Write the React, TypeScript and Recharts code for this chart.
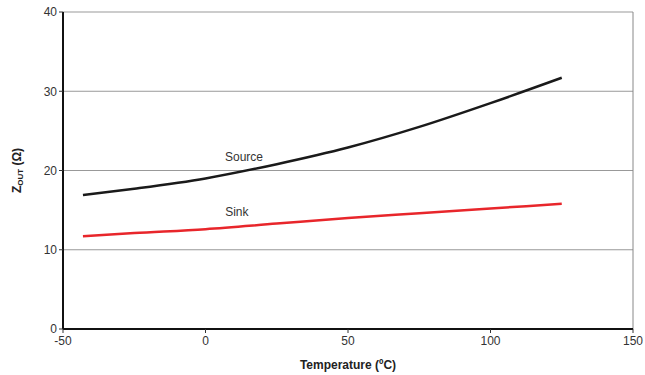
import React from "react";
import { LineChart, Line, XAxis, YAxis, CartesianGrid, ReferenceLine, ReferenceDot, Label } from "recharts";

const temps = [-43, -25, 0, 25, 50, 75, 100, 125];
const source = [16.9, 17.7, 19.0, 20.8, 22.9, 25.5, 28.5, 31.7];
const sink = [11.7, 12.1, 12.6, 13.3, 14.0, 14.6, 15.2, 15.8];
const xTicks = [-50, 0, 50, 100, 150];
const yTicks = [0, 10, 20, 30, 40];

const data = temps.map((t, i) => ({ t, source: source[i], sink: sink[i] }));

const font = "'Liberation Sans', Arial, sans-serif";

const YTitle = (props: any) => {
  const vb = props.viewBox || {};
  const cx = 17;
  const cy = vb.y + vb.height / 2;
  return (
    <text
      x={cx}
      y={cy}
      transform={`rotate(-90, ${cx}, ${cy})`}
      textAnchor="middle"
      dominantBaseline="central"
      fontFamily={font}
      fontSize={12}
      fontWeight="bold"
      fill="#222"
    >
      Z<tspan fontSize={8} dy={3}>OUT</tspan>
      <tspan dy={-3}> (Ω)</tspan>
    </text>
  );
};

export default function App() {
  return (
    <div style={{ position: "absolute", left: 0, top: 0, width: 645, height: 375, overflow: "hidden" }}>
      <LineChart
        width={645}
        height={375}
        data={data}
        margin={{ top: 12, right: 12, bottom: 4, left: 0 }}
        style={{ fontFamily: font }}
      >
        <CartesianGrid vertical={false} stroke="#999" strokeWidth={1} />
        <XAxis
          dataKey="t"
          type="number"
          domain={[-50, 150]}
          ticks={xTicks}
          interval={0}
          height={42}
          axisLine={{ stroke: "#111", strokeWidth: 2 }}
          tickLine={{ stroke: "#333" }}
          tickSize={4}
          tickMargin={3}
          tick={{ fill: "#333", fontSize: 12, fontFamily: font }}
        >
          <Label
            value="Temperature (ºC)"
            position="insideBottom"
            offset={2}
            style={{ fontWeight: "bold", fontSize: 12, fill: "#222", fontFamily: font }}
          />
        </XAxis>
        <YAxis
          type="number"
          domain={[0, 40]}
          ticks={yTicks}
          interval={0}
          width={63}
          axisLine={{ stroke: "#111", strokeWidth: 2 }}
          tickLine={{ stroke: "#333" }}
          tickSize={4}
          tick={{ fill: "#333", fontSize: 12, fontFamily: font }}
        >
          <Label content={<YTitle />} />
        </YAxis>
        <ReferenceLine x={150} stroke="#888" strokeWidth={1} />
        <Line
          type="monotone"
          dataKey="source"
          stroke="#1a1a1a"
          strokeWidth={2.5}
          dot={false}
          isAnimationActive={false}
        />
        <Line
          type="monotone"
          dataKey="sink"
          stroke="#e8262b"
          strokeWidth={2.5}
          dot={false}
          isAnimationActive={false}
        />
        <ReferenceDot x={13.5} y={21.7} r={0} stroke="none" fill="none">
          <Label value="Source" position="center" style={{ fontSize: 12, fill: "#333", fontFamily: font }} />
        </ReferenceDot>
        <ReferenceDot x={11} y={14.8} r={0} stroke="none" fill="none">
          <Label value="Sink" position="center" style={{ fontSize: 12, fill: "#333", fontFamily: font }} />
        </ReferenceDot>
      </LineChart>
    </div>
  );
}
